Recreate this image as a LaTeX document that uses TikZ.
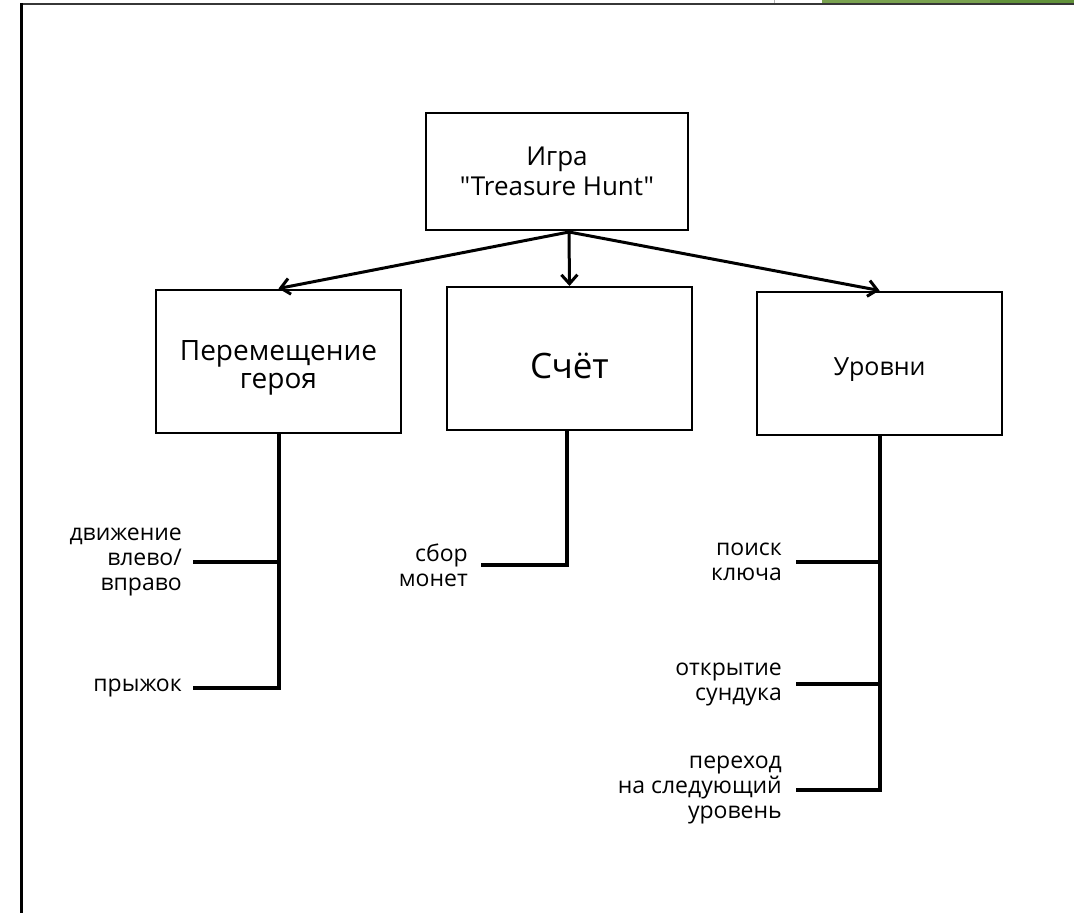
\documentclass[tikz,border=0pt]{standalone}
\usepackage{fontspec}
\setmainfont{Open Sans}[Ligatures=TeXOff]
\usetikzlibrary{arrows.meta}
\definecolor{barlight}{RGB}{122,162,80}
\definecolor{bardark}{RGB}{98,146,58}
\definecolor{edgegray}{RGB}{55,55,55}

\begin{document}
\begin{tikzpicture}[x=1pt,y=-1pt]
  \tikzset{topic/.style={draw,line width=2pt,minimum width=245pt,minimum height=143pt,inner sep=0pt},
           caption/.style={align=center,inner sep=0pt,yshift=-7pt},
           leaf/.style={anchor=east,align=right,font=\fontsize{23}{25}\selectfont,inner sep=0pt},
           link/.style={line width=3pt,-{Straight Barb[length=9pt,width=16pt]}},
           stem/.style={line width=4pt}}
  \useasboundingbox (0,0) rectangle (1074,913);
  % screenshot frame
  \fill[barlight] (822,0) rectangle (990,3);
  \fill[bardark] (990,0) rectangle (1074,3);
  \draw[gray!60,line width=0.6pt] (774,0) -- (774,4);
  \draw[edgegray,line width=2pt] (20,4) -- (1074,4);
  \draw[line width=3pt] (21,3) -- (21,913);

  \node[topic,minimum width=262pt,minimum height=117pt] (game) at (557,171.5) {};
  \node[topic] (move) at (278.5,361) {};
  \node[topic] (score) at (569.5,358.5) {};
  \node[topic] (levels) at (879.5,363) {};
  \node[caption,yshift=7pt,font=\fontsize{26}{30}\selectfont] (gametext) at (game.center) {Игра\\"Treasure Hunt"};
  \node[caption,font=\fontsize{28}{28}\selectfont] (movetext) at (move.center) {Перемещение\\героя};
  \node[caption,font=\fontsize{35}{36}\selectfont] (scoretext) at (score.center) {Счёт};
  \node[caption,font=\fontsize{25}{27}\selectfont] (levelstext) at (levels.center) {Уровни};

  \coordinate (fork) at (569,232);
  \draw[link] (fork) -- (move.north);
  \draw[link] (fork) -- (score.north);
  \draw[link] (fork) -- (levels.north);

  \node[leaf] (lr) at (182,562) {движение\\влево/\\вправо};
  \node[leaf] (jump) at (182,688) {прыжок};
  \node[leaf] (coins) at (468,565) {сбор\\монет};
  \node[leaf] (key) at (782,562) {поиск\\ключа};
  \node[leaf] (chest) at (782,684) {открытие\\сундука};
  \node[leaf] (next) at (782,790) {переход\\на следующий\\уровень};

  \draw[stem] (move.south) |- ([xshift=11pt]jump.east);
  \draw[stem] (lr.east -| move.south) -- ([xshift=11pt]lr.east);
  \draw[stem] ([xshift=-2.5pt]score.south) |- ([xshift=13pt]coins.east);
  \draw[stem] (levels.south) |- ([xshift=14pt]next.east);
  \draw[stem] (key.east -| levels.south) -- ([xshift=14pt]key.east);
  \draw[stem] (chest.east -| levels.south) -- ([xshift=14pt]chest.east);
\end{tikzpicture}
\end{document}
